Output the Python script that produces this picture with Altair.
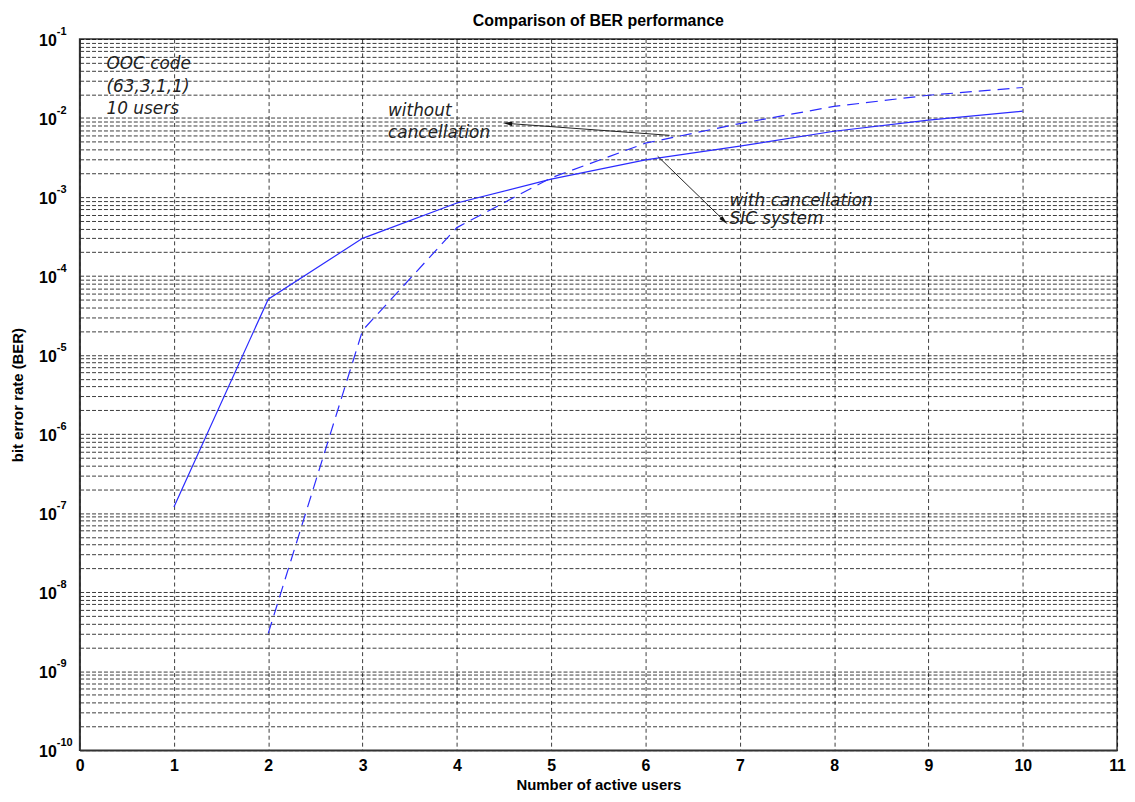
import altair as alt
import pandas as pd

# ---------------- data ----------------
users_sic = [1, 2, 3, 4, 5, 6, 7, 8, 9, 10]
ber_sic = [1.19e-7, 5.1e-5, 3.0e-4, 8.4e-4, 1.68e-3, 2.95e-3, 4.4e-3, 6.8e-3, 9.4e-3, 1.22e-2]

users_conv = [2, 3, 4, 5, 6, 7, 8, 9, 10]
ber_conv = [3.0e-9, 2.05e-5, 4.1e-4, 1.75e-3, 4.8e-3, 8.5e-3, 1.4e-2, 1.94e-2, 2.43e-2]

x_ticks = [0, 1, 2, 3, 4, 5, 6, 7, 8, 9, 10, 11]
decade_vals = [1e-1, 1e-2, 1e-3, 1e-4, 1e-5, 1e-6, 1e-7, 1e-8, 1e-9, 1e-10]
decade_exps = ["-1", "-2", "-3", "-4", "-5", "-6", "-7", "-8", "-9", "-10"]

note_x = [0.285, 0.285, 0.285, 3.27, 3.27, 6.89, 6.89]
note_y = [0.0485, 0.0249, 0.0128, 0.0121, 0.0064, 8.9e-4, 5.2e-4]
note_text = ["OOC code", "(63,3,1,1)", "10 users", "without", "cancellation",
             "with cancellation", "SIC system"]

arrow_x = [6.255, 6.129]
arrow_y = [6.03e-3, 3.28e-3]
arrow_x2 = [4.536, 6.835]
arrow_y2 = [8.53e-3, 4.99e-4]
head_angle = [274, 134]

# grid positions of a MATLAB log axis (1..9 x each decade)
grid_vals = [m * 10.0 ** e for e in range(-10, -1) for m in range(1, 10)] + [0.1]

FONT = "Liberation Sans, Arial, Helvetica, sans-serif"
NOTE_FONT = "DejaVu Sans"
BLUE = "#2b2bff"

df_sic = pd.DataFrame({"x": users_sic, "y": ber_sic})
df_conv = pd.DataFrame({"x": users_conv, "y": ber_conv})
df_dec = pd.DataFrame({"y": decade_vals, "exp": decade_exps})
df_notes = pd.DataFrame({"x": note_x, "y": note_y, "label": note_text})
df_arrows = pd.DataFrame({"x": arrow_x, "y": arrow_y, "x2": arrow_x2, "y2": arrow_y2})
df_heads = pd.DataFrame({"x": arrow_x2, "y": arrow_y2, "angle": head_angle})

xscale = alt.Scale(domain=[0, 11], nice=False, zero=False)
yscale = alt.Scale(type="log", domain=[1e-10, 1e-1], nice=False)

xaxis = alt.Axis(
    values=x_ticks, format="d", title="Number of active users",
    labelFont=FONT, labelFontSize=16, labelFontWeight="bold", labelColor="#000",
    labelPadding=7, labelFlush=False, ticks=False, domainColor="#333", domainWidth=1.5,
    titleFont=FONT, titleFontSize=15, titleFontWeight="bold", titleColor="#000",
    titlePadding=5,
    grid=True, gridColor="#000", gridDash=[4, 3], gridOpacity=0.85, gridWidth=0.9,
)
yaxis = alt.Axis(
    values=grid_vals, labels=False, ticks=False, domainColor="#333", domainWidth=1.5,
    title="bit error rate (BER)", titleFont=FONT, titleFontSize=15,
    titleFontWeight="bold", titleColor="#000", titleX=-62, titleBaseline="middle",
    grid=True, gridColor="#000", gridDash=[4, 2], gridOpacity=0.85, gridWidth=0.9,
)

X = alt.X("x:Q", scale=xscale, axis=xaxis)
Y = alt.Y("y:Q", scale=yscale, axis=yaxis)

line_sic = alt.Chart(df_sic).mark_line(color=BLUE, strokeWidth=1.2).encode(x=X, y=Y)
line_conv = alt.Chart(df_conv).mark_line(
    color=BLUE, strokeWidth=1.2, strokeDash=[12, 7]).encode(x=X, y=Y)

lab_base = alt.Chart(df_dec).mark_text(
    align="right", baseline="middle", font=FONT, fontSize=16, fontWeight="bold",
    color="#000", dy=2).encode(x=alt.value(-23), y=Y, text=alt.value("10"))
lab_exp = alt.Chart(df_dec).mark_text(
    align="left", baseline="middle", font=FONT, fontSize=11, fontWeight="bold",
    color="#000", dy=-7).encode(x=alt.value(-23), y=Y, text="exp:N")

notes = alt.Chart(df_notes).mark_text(
    align="left", baseline="middle", font=NOTE_FONT, fontSize=17,
    fontStyle="italic", color="#222").encode(x=X, y=Y, text="label:N")

arrows = alt.Chart(df_arrows).mark_rule(color="#222", strokeWidth=1).encode(
    x=X, y=Y, x2="x2:Q", y2="y2:Q")
heads = alt.Chart(df_heads).mark_point(
    shape="M0,-1L0.45,1L-0.45,1Z", filled=True, size=90, color="#111", opacity=1
).encode(x=X, y=Y, angle=alt.Angle("angle:Q", scale=None))

chart = alt.layer(line_sic, line_conv, lab_base, lab_exp, notes, arrows, heads).properties(
    width=1043, height=715,
    autosize="none",
    background="white",
    padding={"left": 72, "top": 29, "right": 10, "bottom": 49},
    title=alt.TitleParams("Comparison of BER performance", font=FONT, fontSize=16,
                          fontWeight="bold", color="#000", offset=-3, anchor="middle"),
).configure_view(stroke="#333", strokeWidth=1.5)

chart.save("out.html", embed_options={"renderer": "svg", "actions": False})
